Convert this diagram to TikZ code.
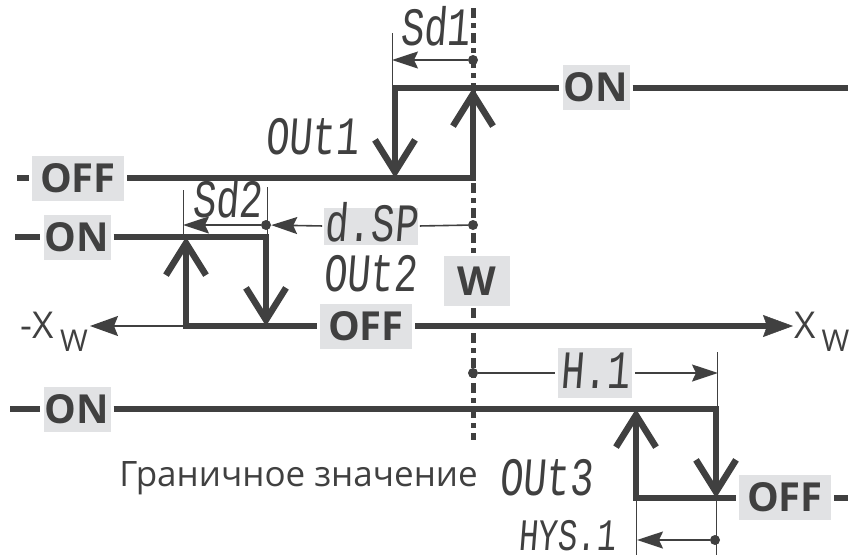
\documentclass[tikz,border=0pt]{standalone}
\usepackage{fontspec}
\setmainfont{Open Sans}
\newfontfamily\segfont[FakeSlant=0.08,FakeStretch=0.72]{Liberation Mono}
\usetikzlibrary{arrows.meta,positioning}
\definecolor{ink}{HTML}{404040}
\definecolor{boxgray}{HTML}{E1E2E4}

\begin{document}
\begin{tikzpicture}[
  x=1pt, y=-1pt,
  state/.style={
    rectangle, fill=boxgray, text=ink, inner sep=0pt,
    minimum height=45pt, text height=29pt, text depth=0pt,
    font=\fontsize{40}{42}\selectfont\bfseries
  },
  seg/.style={
    text=ink, inner sep=0pt, text height=30pt, text depth=0pt,
    font=\segfont\fontsize{54}{54}\selectfont
  },
  segbox/.style={
    seg, fill=boxgray, minimum height=37pt
  },
  level/.style={draw=ink, line width=6.5pt},
  edge/.style={
    level, -{Straight Barb[sharp, length=32pt, width=40pt]}
  },
  thinline/.style={draw=ink, line width=1.6pt},
  dim/.style={
    thinline, -{Stealth[length=26pt, width=17pt, inset=4pt]}
  },
  ext/.style={draw=ink, line width=1pt},
  dot/.style={circle, fill=ink, inner sep=0pt, minimum size=10pt},
  setpoint/.style={
    draw=ink, line width=5pt, dash pattern=on 10pt off 5pt on 5pt off 5pt
  },
  axislbl/.style={text=ink, inner sep=0pt, font=\fontsize{37}{37}\selectfont}
]
\useasboundingbox (0,0) rectangle (849,558);

% Setpoint line W
\coordinate (wtop) at (473,8);
\coordinate (wbot) at (473,440);
\draw[setpoint] (wtop) -- (wbot);

% State boxes
\node[state, minimum width=92pt] (off1) at (78,178) {OFF};
\node[state, minimum width=67pt] (on1) at (596,87) {ON};
\node[state, minimum width=67pt] (on2) at (77,237) {ON};
\node[state, minimum width=92pt] (off2) at (366,326) {OFF};
\node[state, minimum width=67pt] (on3) at (77,409) {ON};
\node[state, minimum width=92pt] (off3) at (785,497) {OFF};
\node[state, minimum width=66pt, minimum height=50pt] (wbox) at (477,281) {W};

% Display labels
\node[seg] (sd1) at (435,30) {Sd1};
\node[seg] (out1) at (312,139) {OUt1};
\node[seg] (sd2) at (227,202) {Sd2};
\node[segbox, minimum width=93pt] (dsp) at (371,226) {d.SP};
\node[seg] (out2) at (370,276) {OUt2};
\node[segbox, minimum width=74pt, minimum height=50pt] (h1) at (595,373) {H.1};
\node[seg] (out3) at (546,480) {OUt3};
\node[seg, font=\segfont\fontsize{45}{45}\selectfont, text height=25pt] (hys1) at (567,538) {HYS.1};
\node[anchor=base east, text=ink, inner sep=0pt, font=\fontsize{35}{35}\selectfont]
  (limit) at (478,486) {Граничное значение};

% Axis
\coordinate (xneg) at (90,326);
\coordinate (xpos) at (793,326);
\node[axislbl, anchor=base east] (xnegl) at (88,338)
  {-X\,\raisebox{-13pt}{\fontsize{30}{30}\selectfont W}};
\node[axislbl, anchor=base west] (xposl) at (794,338)
  {X\,\raisebox{-13pt}{\fontsize{30}{30}\selectfont W}};

% Out1 loop
\coordinate (s1) at (17,178);
\coordinate (r1) at (473,178);
\coordinate (t1) at (473,88);
\coordinate (f1) at (395,88);
\coordinate (b1) at (395,178);
\coordinate (e1) at (848,88);
\draw[level, shorten >=3pt] (s1) -- (off1.west);
\draw[edge, shorten <=3pt] (off1.east) -- (r1) -- (t1);
\draw[edge, shorten <=3pt] (on1.west |- f1) -- (f1) -- (b1);
\draw[level, shorten <=3pt] (on1.east |- e1) -- (e1);

% Sd1
\node[dot] (sd1dot) at (473,60) {};
\coordinate (sd1end) at (392,60);
\coordinate (sd1top) at (392,33);
\draw[dim] (sd1dot) -- (sd1end);
\draw[ext] (sd1top) -- (sd1top |- f1);

% Out2 loop
\coordinate (s2) at (15,237);
\coordinate (u2t) at (186,237);
\coordinate (u2b) at (186,326);
\coordinate (f2t) at (266,237);
\coordinate (f2b) at (266,326);
\draw[level, shorten >=3pt] (s2) -- (on2.west);
\draw[edge, shorten <=3pt] (on2.east) -- (f2t) -- (f2b);
\draw[edge, shorten <=3pt] (off2.west) -- (u2b) -- (u2t);
\draw[thinline, -{Stealth[length=28pt, width=20pt, inset=4pt]}] (u2b) -- (xneg);
\draw[level, shorten <=3pt, -{Stealth[length=30pt, width=22pt, inset=4pt, line width=0.5pt]}]
  (off2.east) -- (xpos);

% Sd2 and d.SP
\node[dot] (sd2dot) at (266,225) {};
\coordinate (sd2end) at (183,225);
\coordinate (sd2l) at (183,190);
\coordinate (sd2r) at (267,187);
\draw[dim] (sd2dot) -- (sd2end);
\draw[ext] (sd2l) -- (sd2l |- u2t);
\draw[ext] (sd2r) -- (sd2r |- f2t);
\node[dot] (dspdot) at (473,225) {};
\draw[thinline, shorten >=2pt] (dspdot) -- (dsp.east);
\draw[dim, shorten <=2pt] (dsp.west) -- (sd2dot);

% Out3 loop
\coordinate (s3) at (10,409);
\coordinate (f3t) at (716,409);
\coordinate (f3b) at (716,498);
\coordinate (u3b) at (636,498);
\coordinate (u3t) at (636,409);
\coordinate (e3) at (848,498);
\draw[level, shorten >=3pt] (s3) -- (on3.west);
\draw[edge, shorten <=3pt] (on3.east) -- (f3t) -- (f3b);
\draw[edge, shorten <=3pt] (off3.west |- u3b) -- (u3b) -- (u3t);
\draw[level, shorten <=3pt] (off3.east |- e3) -- (e3);

% H.1
\node[dot] (h1dot) at (473,373) {};
\coordinate (h1end) at (718,373);
\coordinate (h1ext) at (717,352);
\draw[thinline, shorten >=3pt] (h1dot) -- (h1.west);
\draw[dim, shorten <=3pt] (h1.east) -- (h1end);
\draw[ext] (h1ext) -- (h1ext |- f3t);

% HYS.1
\node[dot] (hysdot) at (715,540) {};
\coordinate (hysend) at (637,540);
\coordinate (hysl) at (636,555);
\coordinate (hysr) at (716,555);
\draw[dim] (hysdot) -- (hysend);
\draw[ext] (u3b) -- (hysl);
\draw[ext] (f3b) -- (hysr);

\end{tikzpicture}
\end{document}
